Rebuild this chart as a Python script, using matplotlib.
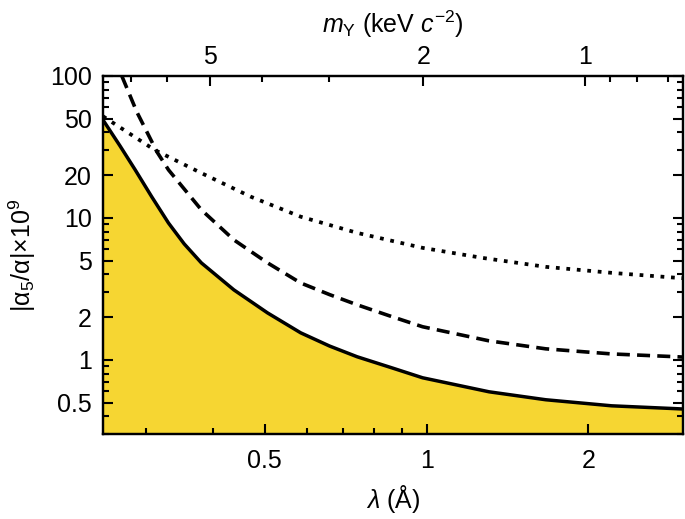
"""
Limites sur |alpha_5/alpha| en fonction de lambda (et de la masse m_Y)
"""
import numpy as np
import matplotlib.pyplot as plt
from matplotlib.ticker import FixedLocator, NullFormatter

plt.rcParams['font.family'] = ['Liberation Sans', 'DejaVu Sans']
plt.rcParams['mathtext.fontset'] = 'custom'
plt.rcParams['mathtext.rm'] = 'Liberation Sans'
plt.rcParams['mathtext.it'] = 'Liberation Sans:italic'

# hbar*c en keV.Angstrom (conversion lambda -> masse)
HBAR_C = 1.9733

# courbe pleine (zone exclue en jaune)
lam_solid = [0.25, 0.269, 0.287, 0.308, 0.331, 0.354, 0.381, 0.438, 0.506, 0.583,
             0.66, 0.743, 0.86, 0.983, 1.307, 1.666, 2.21, 2.93, 3.0]
val_solid = [49.0, 32.1, 21.8, 14.1, 9.2, 6.56, 4.82, 3.11, 2.14, 1.55,
             1.25, 1.05, 0.88, 0.747, 0.595, 0.523, 0.474, 0.452, 0.450]

# courbe tiretee
lam_dash = [0.271, 0.289, 0.315, 0.331, 0.381, 0.438, 0.506, 0.583, 0.66, 0.743, 0.86, 0.983,
            1.307, 1.666, 2.21, 2.93, 3.0]
val_dash = [100.0, 55.8, 29.2, 21.8, 11.4, 7.0, 4.82, 3.48, 2.88, 2.44, 2.02, 1.71,
            1.36, 1.195, 1.10, 1.05, 1.045]

# courbe pointillee
lam_dot = [0.25, 0.312, 0.381, 0.471, 0.583, 0.743, 0.983, 1.269, 1.666, 2.21, 2.93, 3.0]
val_dot = [52.0, 30.1, 20.7, 14.1, 10.2, 7.84, 6.15, 5.23, 4.52, 4.10, 3.78, 3.76]

# graduations
x_major = [0.5, 1, 2]
x_minor = [0.3, 0.4, 0.6, 0.7, 0.8, 0.9]
y_major = [0.5, 1, 2, 5, 10, 20, 50, 100]
y_minor = [0.3, 0.4, 0.6, 0.7, 0.8, 0.9, 3, 4, 6, 7, 8, 9, 30, 40, 60, 70, 80, 90]
m_major = [1, 2, 5]
m_minor = [0.7, 0.8, 0.9, 3, 4, 6, 7]

YELLOW = '#F6D632'
FS = 18

fig = plt.figure(figsize=(6.85, 5.19), dpi=100)
ax = fig.add_axes([103 / 685, 1 - 434 / 519, 580 / 685, 358 / 519])

ax.fill_between(lam_solid, 0.01, val_solid, color=YELLOW, lw=0, zorder=1)
ax.plot(lam_solid, val_solid, color='black', lw=2.5, zorder=3)
ax.plot(lam_dash, val_dash, color='black', lw=2.6, ls=(0, (3.6, 2.0)), zorder=3)
ax.plot(lam_dot, val_dot, color='black', lw=2.7, ls=(0, (1.0, 1.8)), zorder=3)

ax.set_xscale('log')
ax.set_yscale('log')
ax.set_xlim(0.25, 3)
ax.set_ylim(0.3, 100)

ax.xaxis.set_major_locator(FixedLocator(x_major))
ax.xaxis.set_minor_locator(FixedLocator(x_minor))
ax.set_xticklabels(['0.5', '1', '2'])
ax.xaxis.set_minor_formatter(NullFormatter())
ax.yaxis.set_major_locator(FixedLocator(y_major))
ax.yaxis.set_minor_locator(FixedLocator(y_minor))
ax.set_yticklabels(['0.5', '1', '2', '5', '10', '20', '50', '100'])
ax.yaxis.set_minor_formatter(NullFormatter())

ax.tick_params(which='both', direction='in', width=1.5, labelsize=FS, right=True)
ax.tick_params(which='major', length=7)
ax.tick_params(which='minor', length=4)
ax.tick_params(axis='x', which='both', pad=11)
ax.tick_params(axis='y', which='both', pad=8)
for s in ax.spines.values():
    s.set_linewidth(1.6)
    s.set_zorder(5)

ax.set_xlabel(r'$\lambda$ (Å)', fontsize=FS, labelpad=7)
ax.set_ylabel('|α$_5$/α|×10$^9$', fontsize=FS, labelpad=9)

# axe du haut : masse m_Y = hbar c / lambda
top = ax.twiny()
top.set_xscale('log')
top.set_xlim(HBAR_C / 0.25, HBAR_C / 3)
top.xaxis.set_major_locator(FixedLocator(m_major))
top.xaxis.set_minor_locator(FixedLocator(m_minor))
top.set_xticklabels(['1', '2', '5'])
top.xaxis.set_minor_formatter(NullFormatter())
top.tick_params(which='both', direction='in', width=1.5, labelsize=FS, pad=5)
top.tick_params(which='major', length=7)
top.tick_params(which='minor', length=4)
top.set_xlabel(r'$m_{\rm Y}$ (keV $c^{-2}$)', fontsize=FS, labelpad=9)
for s in top.spines.values():
    s.set_linewidth(1.6)

fig.savefig('out.png', dpi=100)
